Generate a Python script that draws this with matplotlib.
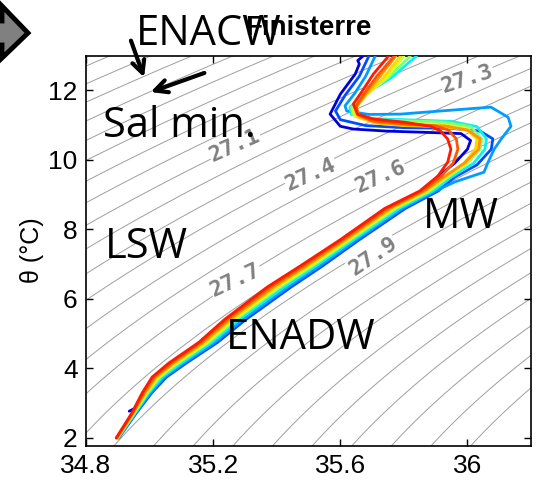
import matplotlib
matplotlib.use("Agg")
import matplotlib.pyplot as plt
import numpy as np
from matplotlib.patches import Polygon

# potential temperature levels shared by the deep part of every profile
theta_deep = [2.0, 2.7, 3.3, 3.75, 4.15, 4.75, 5.4, 6.35, 6.95, 7.7, 8.6, 9.1]

# salinity / theta of each CTD profile (deep part + upper part)
sal_red = [34.895, 34.943, 34.977, 35.008, 35.060, 35.155, 35.235, 35.372, 35.475, 35.600, 35.740, 35.850,
           35.907, 35.938, 35.948, 35.938, 35.916, 35.884, 35.799, 35.704, 35.654, 35.641, 35.669, 35.704, 35.752]
th_red = theta_deep + [9.53, 9.93, 10.30, 10.59, 10.82, 10.96, 11.08, 11.17, 11.31, 11.60, 11.97, 12.46, 12.98]

sal_dorange = [34.896, 34.945, 34.981, 35.013, 35.067, 35.161, 35.242, 35.381, 35.483, 35.607, 35.748, 35.857,
               35.915, 35.955, 35.970, 35.965, 35.940, 35.900, 35.800, 35.700, 35.655, 35.650, 35.675, 35.715, 35.770]
th_dorange = theta_deep + [9.5, 9.9, 10.3, 10.6, 10.85, 10.97, 11.03, 11.12, 11.3, 11.55, 11.9, 12.4, 12.98]

sal_orange = [34.897, 34.947, 34.985, 35.019, 35.074, 35.169, 35.251, 35.391, 35.493, 35.615, 35.756, 35.865,
              35.925, 35.990, 36.035, 36.040, 36.000, 35.930, 35.800, 35.710, 35.660, 35.650, 35.680, 35.725, 35.775]
th_orange = theta_deep + [9.5, 9.9, 10.3, 10.6, 10.85, 10.97, 11.0, 11.08, 11.25, 11.5, 11.9, 12.4, 12.98]

sal_yorange = [34.898, 34.948, 34.988, 35.024, 35.079, 35.175, 35.258, 35.398, 35.500, 35.621, 35.763, 35.870,
               35.930, 35.990, 36.025, 36.030, 36.000, 35.920, 35.800, 35.710, 35.655, 35.645, 35.680, 35.735, 35.790]
th_yorange = theta_deep + [9.5, 9.9, 10.3, 10.6, 10.85, 10.95, 10.98, 11.05, 11.22, 11.45, 11.85, 12.35, 12.98]

sal_yellow = [34.899, 34.949, 34.991, 35.028, 35.085, 35.181, 35.265, 35.406, 35.507, 35.627, 35.769, 35.876,
              35.935, 36.000, 36.030, 36.035, 36.000, 35.920, 35.800, 35.700, 35.645, 35.640, 35.680, 35.745, 35.800]
th_yellow = theta_deep + [9.5, 9.9, 10.3, 10.6, 10.9, 11.02, 11.05, 11.1, 11.25, 11.45, 11.85, 12.35, 12.98]

sal_green = [34.899, 34.951, 34.994, 35.033, 35.090, 35.187, 35.271, 35.413, 35.514, 35.633, 35.776, 35.882,
             35.940, 36.000, 36.040, 36.045, 36.010, 35.930, 35.800, 35.700, 35.640, 35.635, 35.675, 35.750, 35.820]
th_green = theta_deep + [9.5, 9.9, 10.3, 10.6, 10.95, 11.08, 11.12, 11.15, 11.3, 11.5, 11.85, 12.35, 12.98]

sal_cyan = [34.901, 34.953, 34.998, 35.040, 35.099, 35.196, 35.281, 35.425, 35.524, 35.642, 35.786, 35.891,
            35.950, 36.020, 36.055, 36.060, 36.030, 35.950, 35.800, 35.700, 35.635, 35.630, 35.670, 35.760, 35.840]
th_cyan = theta_deep + [9.5, 9.9, 10.3, 10.6, 10.95, 11.1, 11.15, 11.18, 11.3, 11.5, 11.85, 12.35, 12.98]

sal_azure = [34.902, 34.955, 35.003, 35.046, 35.107, 35.205, 35.292, 35.436, 35.535, 35.651, 35.795, 35.899,
             35.960, 36.052, 36.065, 36.084, 36.106, 36.137, 36.128, 36.074, 35.916, 35.790, 35.690, 35.620,
             35.615, 35.645, 35.680, 35.710]
th_azure = theta_deep + [9.36, 9.64, 9.93, 10.30, 10.59, 10.96, 11.22, 11.51, 11.40, 11.31, 11.3, 11.4,
                         11.55, 11.9, 12.4, 12.98]

sal_blue = [34.903, 34.957, 35.007, 35.053, 35.115, 35.214, 35.302, 35.447, 35.545, 35.660, 35.805, 35.908,
            35.960, 36.030, 36.075, 36.080, 36.040, 35.950, 35.800, 35.680, 35.600, 35.585, 35.615, 35.660, 35.690]
th_blue = theta_deep + [9.5, 9.85, 10.3, 10.6, 10.82, 10.9, 10.92, 10.98, 11.15, 11.4, 11.85, 12.4, 12.98]

sal_dblue = [34.936, 34.968, 34.983, 35.015, 35.070, 35.175, 35.260, 35.403, 35.503, 35.625, 35.766, 35.872,
             35.905, 35.960, 36.000, 36.010, 35.980, 35.853, 35.748, 35.641, 35.600, 35.568, 35.600, 35.647,
             35.660, 35.655, 35.673]
th_dblue = [2.77, 2.92, 3.3, 3.75, 4.15, 4.75, 5.4, 6.35, 6.95, 7.7, 8.6, 9.1,
            9.5, 9.9, 10.3, 10.55, 10.75, 10.79, 10.82, 10.88, 10.96, 11.31, 11.88, 12.46,
            12.75, 12.85, 12.99]

# isopycnal labels: text, salinity, theta, rotation
iso_text = ["27.3", "27.1", "27.4", "27.6", "27.7", "27.9"]
iso_sal = [36.00, 35.268, 35.508, 35.726, 35.271, 35.704]
iso_th = [12.32, 10.40, 9.58, 9.50, 6.53, 7.22]
iso_rot = [18, 24, 24, 24, 25, 34]


def sigma0(S, T):
    # UNESCO 1983 density at surface pressure, minus 1000
    rw = (999.842594 + 6.793952e-2 * T - 9.095290e-3 * T**2 + 1.001685e-4 * T**3
          - 1.120083e-6 * T**4 + 6.536332e-9 * T**5)
    A = 8.24493e-1 - 4.0899e-3 * T + 7.6438e-5 * T**2 - 8.2467e-7 * T**3 + 5.3875e-9 * T**4
    B = -5.72466e-3 + 1.0227e-4 * T - 1.6546e-6 * T**2
    C = 4.8314e-4
    return rw + A * S + B * S**1.5 + C * S**2 - 1000.0


W, H = 539, 483
fig = plt.figure(figsize=(W / 100, H / 100), dpi=100)
ax = fig.add_axes([86 / W, 1 - 446 / H, (531 - 86) / W, (446 - 56) / H])

# density background
sg, tg = np.meshgrid(np.linspace(34.6, 36.4, 300), np.linspace(1.0, 14.0, 300))
ax.contour(sg, tg, sigma0(sg, tg), levels=np.arange(24.0, 28.8, 0.1),
           colors="0.62", linewidths=0.7, zorder=1)

for txt, s, t, r in zip(iso_text, iso_sal, iso_th, iso_rot):
    ax.text(s, t, txt, rotation=r, ha="center", va="center", color="0.5",
            fontsize=16, fontweight="bold", family="DejaVu Sans Mono", zorder=1.5,
            bbox=dict(fc="white", ec="none", pad=0.5))

profiles = [(sal_dblue, th_dblue), (sal_blue, th_blue), (sal_azure, th_azure),
            (sal_cyan, th_cyan), (sal_green, th_green), (sal_yellow, th_yellow),
            (sal_yorange, th_yorange), (sal_orange, th_orange), (sal_dorange, th_dorange),
            (sal_red, th_red)]
cols = plt.cm.jet([0.08, 0.2, 0.28, 0.36, 0.5, 0.6, 0.68, 0.75, 0.82, 0.88])
for (s, t), c in zip(profiles, cols):
    ax.plot(s, t, color=c, lw=2.0, solid_capstyle="round", zorder=3)

ax.set_xlim(34.8, 36.2)
ax.set_ylim(1.77, 12.98)
ax.set_xticks([34.8, 35.2, 35.6, 36.0])
ax.set_xticklabels(["34.8", "35.2", "35.6", "36"])
ax.set_yticks([2, 4, 6, 8, 10, 12])
ax.tick_params(direction="in", length=5, width=1, top=True, right=True,
               labelsize=19, pad=6)
for lab in ax.get_xticklabels() + ax.get_yticklabels():
    lab.set_family("Liberation Sans")
for sp in ax.spines.values():
    sp.set_linewidth(1.2)

fig.text(32 / W, 1 - 250 / H, "\u03b8 (\u00b0C)", rotation=90, ha="center", va="center",
         fontsize=18, family="Liberation Sans")
fig.text(308 / W, 1 - 35 / H, "Finisterre", ha="center", va="baseline",
         fontsize=20, fontweight="bold", family="Liberation Sans")

# water mass names
big = dict(fontsize=30, family="Open Sans", va="baseline", ha="left", color="k")
fig.text(136 / W, 1 - 45 / H, "ENACW", **big)
fig.text(103 / W, 1 - 137 / H, "Sal min.", **big)
fig.text(105 / W, 1 - 258 / H, "LSW", **big)
fig.text(423 / W, 1 - 228 / H, "MW", **big)
fig.text(226 / W, 1 - 349 / H, "ENADW", **big)

arr = dict(arrowstyle="->,head_length=0.9,head_width=0.45", lw=3, color="k")
fig.add_artist(plt.Annotation("", xy=(145 / W, 1 - 80 / H), xytext=(130 / W, 1 - 38 / H),
                              xycoords="figure fraction", arrowprops=arr))
fig.add_artist(plt.Annotation("", xy=(148 / W, 1 - 93 / H), xytext=(207 / W, 1 - 72 / H),
                              xycoords="figure fraction", arrowprops=arr))

# grey arrow icon in the corner
pts = [(-20, 21), (2, 21), (2, 6), (28, 33), (2, 58), (2, 45), (-20, 45)]
fig.add_artist(Polygon([(x / W, 1 - y / H) for x, y in pts], closed=True,
                       transform=fig.transFigure, fc="0.5", ec="k", lw=3.5))

fig.savefig("out.png", dpi=100)
